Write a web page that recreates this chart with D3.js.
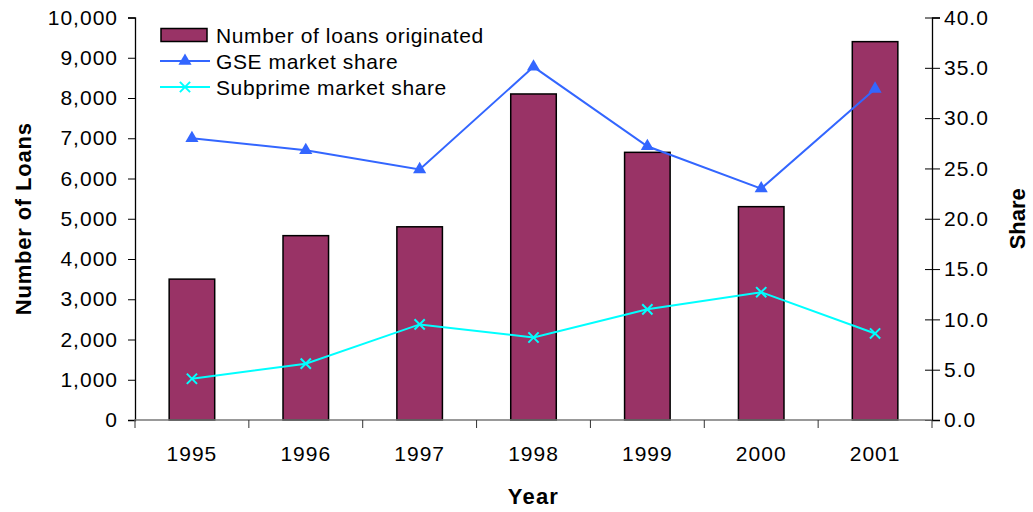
<!DOCTYPE html>
<html>
<head>
<meta charset="utf-8">
<script src="https://cdn.jsdelivr.net/npm/d3@7"></script>
<style>
  body { margin: 0; background: #fff; }
  text { font-family: "Liberation Sans", Arial, sans-serif; fill: #000; }
</style>
</head>
<body>
<div id="container"></div>
<script>
/* CONSTANTS AND GLOBALS */
const width = 1033,
  height = 512,
  margin = {top: 17.5, bottom: 92, left: 135, right: 101};

/* DATA */
const years = ["1995", "1996", "1997", "1998", "1999", "2000", "2001"];
const loans = [3500, 4580, 4800, 8100, 6650, 5300, 9400];
const gseShare = [28.0, 26.8, 24.9, 35.1, 27.2, 23.0, 32.9];
const subprimeShare = [4.1, 5.6, 9.5, 8.2, 11.0, 12.7, 8.6];
const leftTicks = d3.range(0, 10001, 1000);
const rightTicks = d3.range(0, 40.1, 5);

// SCALES
const xScale = d3.scaleBand()
  .domain(years)
  .range([margin.left, width - margin.right])
  .paddingInner(0.6)
  .paddingOuter(0.3)

const step = xScale.step()
const xCenter = d => xScale(d) + xScale.bandwidth() / 2

const yLeft = d3.scaleLinear()
  .domain([0, 10000])
  .range([height - margin.bottom, margin.top])

const yRight = d3.scaleLinear()
  .domain([0, 40])
  .range([height - margin.bottom, margin.top])

// CREATE SVG ELEMENT
const svg = d3.select("#container")
  .append("svg")
  .attr("width", width)
  .attr("height", height)

// BARS
svg.selectAll(".bar")
  .data(years)
  .join("rect")
  .attr("class", "bar")
  .attr("x", d => xScale(d))
  .attr("width", xScale.bandwidth())
  .attr("y", (d, i) => yLeft(loans[i]))
  .attr("height", (d, i) => yLeft(0) - yLeft(loans[i]))
  .attr("fill", "#993366")
  .attr("stroke", "#000")
  .attr("stroke-width", 1.5)

// AXES
const tickStyle = sel => sel
  .style("font-size", "21px")
  .style("letter-spacing", "1px")

const yAxisLeft = d3.axisLeft(yLeft)
  .tickValues(leftTicks)
  .tickFormat(d3.format(","))
  .tickSize(7)
  .tickPadding(10)

const leftG = svg.append("g")
  .attr("transform", `translate(${margin.left}, 0)`)
  .call(yAxisLeft)
leftG.select(".domain").attr("stroke", "#000").attr("stroke-width", 1.3)
leftG.selectAll(".tick line").attr("stroke", "#000")
leftG.selectAll("text").call(tickStyle)

const yAxisRight = d3.axisRight(yRight)
  .tickValues(rightTicks)
  .tickFormat(d3.format(".1f"))
  .tickSize(8)
  .tickPadding(4)

const rightG = svg.append("g")
  .attr("transform", `translate(${width - margin.right}, 0)`)
  .call(yAxisRight)
rightG.select(".domain").attr("stroke", "#000").attr("stroke-width", 1.3)
rightG.selectAll(".tick line").attr("x1", -7).attr("stroke", "#000")
rightG.selectAll("text").call(tickStyle)

// x axis: labels centered in bands, ticks at band boundaries
const xAxis = d3.axisBottom(xScale)
  .tickSize(0)
  .tickPadding(26)

const xG = svg.append("g")
  .attr("transform", `translate(0, ${height - margin.bottom})`)
  .call(xAxis)
xG.select(".domain").remove()
xG.selectAll("text").call(tickStyle)

xG.append("line")
  .attr("x1", margin.left - 1)
  .attr("x2", width - margin.right)
  .attr("stroke", "#777")
  .attr("stroke-width", 1.5)

const boundaries = d3.range(years.length + 1).map(i => margin.left + i * step)
xG.selectAll(".xtick")
  .data(boundaries)
  .join("line")
  .attr("class", "xtick")
  .attr("x1", d => d).attr("x2", d => d)
  .attr("y1", 0).attr("y2", 8)
  .attr("stroke", "#333")

// LINES
const shareLine = d3.line()
  .x((d, i) => xCenter(years[i]))
  .y(d => yRight(d))

svg.append("path")
  .datum(gseShare)
  .attr("fill", "none")
  .attr("stroke", "#3366FF")
  .attr("stroke-width", 2)
  .attr("d", shareLine)

const tri = d3.symbol().type(d3.symbolTriangle).size(75)
svg.selectAll(".gse")
  .data(gseShare)
  .join("path")
  .attr("class", "gse")
  .attr("transform", (d, i) => `translate(${xCenter(years[i])}, ${yRight(d)})`)
  .attr("d", tri)
  .attr("fill", "#3366FF")

svg.append("path")
  .datum(subprimeShare)
  .attr("fill", "none")
  .attr("stroke", "#00FFFF")
  .attr("stroke-width", 2)
  .attr("d", shareLine)

const cross = d3.symbol().type(d3.symbolX).size(70)
svg.selectAll(".sub")
  .data(subprimeShare)
  .join("path")
  .attr("class", "sub")
  .attr("transform", (d, i) => `translate(${xCenter(years[i])}, ${yRight(d)})`)
  .attr("d", cross)
  .attr("fill", "none")
  .attr("stroke", "#00FFFF")
  .attr("stroke-width", 2)

// AXIS TITLES
const midY = (margin.top + height - margin.bottom) / 2

svg.append("text")
  .attr("transform", `translate(${31}, ${midY}) rotate(-90)`)
  .attr("text-anchor", "middle")
  .style("font-size", "22px")
  .style("font-weight", "bold")
  .style("letter-spacing", "0.8px")
  .text("Number of Loans")

svg.append("text")
  .attr("transform", `translate(${1025}, ${midY}) rotate(-90)`)
  .attr("text-anchor", "middle")
  .style("font-size", "22px")
  .style("font-weight", "bold")
  .text("Share")

svg.append("text")
  .attr("x", (margin.left + width - margin.right) / 2)
  .attr("y", 504)
  .attr("text-anchor", "middle")
  .style("font-size", "22px")
  .style("font-weight", "bold")
  .style("letter-spacing", "1.2px")
  .text("Year")

// LEGEND
const legend = svg.append("g").attr("transform", "translate(160, 0)")
const rowY = [35, 61, 87]

legend.append("rect")
  .attr("x", 1).attr("y", rowY[0] - 6.5)
  .attr("width", 46).attr("height", 13)
  .attr("fill", "#993366").attr("stroke", "#000").attr("stroke-width", 1.5)

legend.append("line")
  .attr("x1", 0).attr("x2", 50).attr("y1", rowY[1]).attr("y2", rowY[1])
  .attr("stroke", "#3366FF").attr("stroke-width", 2)
legend.append("path")
  .attr("transform", `translate(25, ${rowY[1]})`)
  .attr("d", tri).attr("fill", "#3366FF")

legend.append("line")
  .attr("x1", 0).attr("x2", 50).attr("y1", rowY[2]).attr("y2", rowY[2])
  .attr("stroke", "#00FFFF").attr("stroke-width", 2)
legend.append("path")
  .attr("transform", `translate(25, ${rowY[2]})`)
  .attr("d", cross).attr("fill", "none").attr("stroke", "#00FFFF").attr("stroke-width", 2)

legend.selectAll(".ltext")
  .data(["Number of loans originated", "GSE market share", "Subprime market share"])
  .join("text")
  .attr("class", "ltext")
  .attr("x", 56)
  .attr("y", (d, i) => rowY[i])
  .attr("dy", "0.36em")
  .style("font-size", "21px")
  .style("letter-spacing", "0.6px")
  .text(d => d)
</script>
</body>
</html>
